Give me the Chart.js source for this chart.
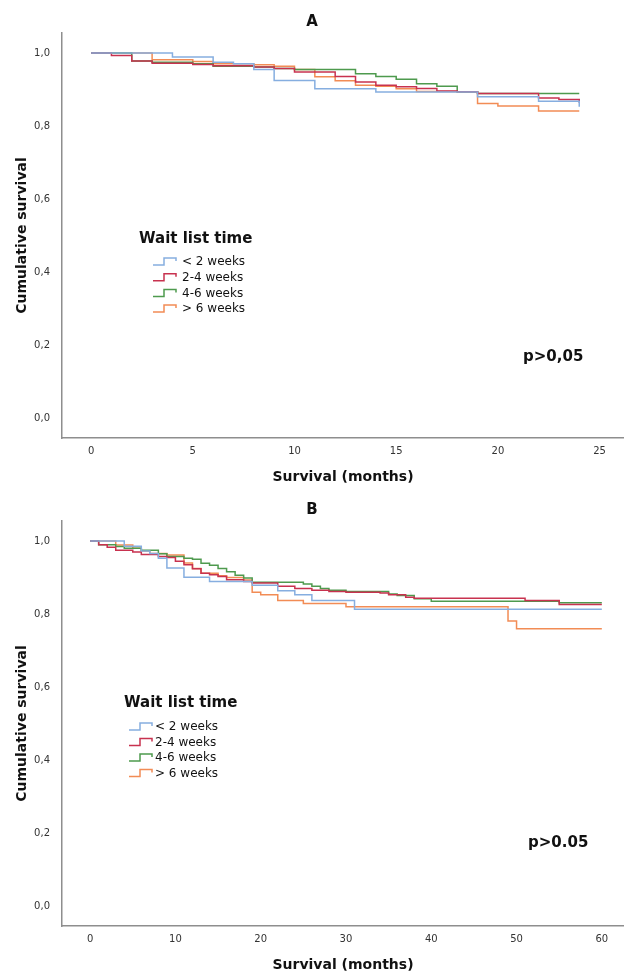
<!DOCTYPE html>
<html>
<head>
<meta charset="utf-8">
<script src="https://cdn.jsdelivr.net/npm/chart.js@4.4.1/dist/chart.umd.min.js"></script>
<style>
  html, body { margin: 0; padding: 0; background: #fff; }
  body { width: 624px; height: 976px; position: relative; overflow: hidden; }
  canvas { position: absolute; left: 0; }
  #chartA { top: 0; }
  #chartB { top: 488px; }
</style>
</head>
<body>
<canvas id="chartA" width="624" height="488"></canvas>
<canvas id="chartB" width="624" height="488"></canvas>
<script>
const groupLabels = ['< 2 weeks', '2-4 weeks', '4-6 weeks', '> 6 weeks'];
const groupColors = ['#86aee0', '#c8324f', '#4e9a4e', '#f28c55'];
const yTicks = [0, 0.2, 0.4, 0.6, 0.8, 1.0];
const xTicksA = [0, 5, 10, 15, 20, 25];
const xTicksB = [0, 10, 20, 30, 40, 50, 60];

// panel A (24 months)
const monthsA_lt2 = [0, 4, 6, 7, 8, 9, 11, 14, 19, 22, 24];
const survA_lt2   = [1, .989, .975, .971, .955, .925, .902, .893, .88, .868, .853];
const monthsA_2to4 = [0, 1, 2, 3, 5, 6, 8, 9, 10, 12, 13, 14, 15, 16, 17, 18, 19, 22, 23, 24];
const survA_2to4   = [1, .993, .978, .972, .969, .965, .962, .958, .948, .936, .921, .912, .908, .903, .896, .894, .889, .877, .873, .864];
const monthsA_4to6 = [0, 2, 3, 5, 6, 8, 9, 10, 13, 14, 15, 16, 17, 18, 19, 24];
const survA_4to6   = [1, .978, .975, .971, .964, .962, .958, .955, .943, .936, .928, .916, .909, .894, .889, .889];
const monthsA_gt6 = [0, 3, 5, 6, 8, 9, 10, 11, 12, 13, 14, 15, 16, 18, 19, 20, 22, 24];
const survA_gt6   = [1, .982, .977, .971, .968, .964, .955, .935, .924, .912, .909, .902, .895, .893, .862, .855, .841, .841];

// panel B (60 months)
const monthsB_lt2 = [0, 4, 6, 7, 8, 9, 11, 14, 19, 22, 24, 26, 31, 60];
const survB_lt2   = [1, .986, .973, .966, .953, .926, .901, .889, .879, .864, .853, .837, .813, .813];
const monthsB_2to4 = [0, 1, 2, 3, 5, 6, 8, 9, 10, 11, 12, 13, 14, 15, 16, 18, 19, 22, 24, 26, 28, 30, 34, 35, 37, 38, 51, 55, 60];
const survB_2to4   = [1, .99, .983, .975, .97, .963, .958, .955, .945, .935, .924, .912, .908, .903, .894, .889, .885, .876, .87, .865, .862, .86, .858, .853, .846, .843, .837, .826, .826];
const monthsB_4to6 = [0, 1, 3, 4, 6, 8, 9, 11, 12, 13, 14, 15, 16, 17, 18, 19, 25, 26, 27, 28, 30, 35, 36, 38, 40, 55, 60];
const survB_4to6   = [1, .99, .985, .98, .975, .965, .958, .953, .95, .939, .934, .925, .916, .906, .899, .887, .882, .876, .87, .865, .862, .855, .851, .842, .835, .831, .831];
const monthsB_gt6 = [0, 3, 5, 6, 7, 9, 11, 12, 13, 15, 16, 18, 19, 20, 22, 25, 30, 49, 50, 60];
const survB_gt6   = [1, .989, .98, .973, .966, .962, .94, .925, .912, .905, .9, .893, .86, .853, .837, .829, .82, .781, .76, .76];

const seriesA = [[monthsA_lt2, survA_lt2], [monthsA_2to4, survA_2to4], [monthsA_4to6, survA_4to6], [monthsA_gt6, survA_gt6]];
const seriesB = [[monthsB_lt2, survB_lt2], [monthsB_2to4, survB_2to4], [monthsB_4to6, survB_4to6], [monthsB_gt6, survB_gt6]];

const FONT = '"DejaVu Sans", Verdana, sans-serif';

// legend box and p value drawn inside the plot area
const kmExtras = {
  id: 'kmExtras',
  afterDraw(chart, args, opts) {
    const { ctx, chartArea: { left, top } } = chart;
    ctx.save();
    ctx.fillStyle = '#111';
    ctx.textBaseline = 'middle';
    ctx.font = 'bold 15px ' + FONT;
    ctx.fillText(opts.title, left + opts.titleX, top + opts.titleY);
    ctx.font = '12px ' + FONT;
    chart.data.datasets.forEach((ds, i) => {
      const sx = left + opts.itemX;
      const cy = top + opts.itemY + i * opts.itemGap;
      ctx.strokeStyle = ds.borderColor;
      ctx.lineWidth = 1.5;
      ctx.beginPath();
      ctx.moveTo(sx, cy + 3);
      ctx.lineTo(sx + 11, cy + 3);
      ctx.lineTo(sx + 11, cy - 4);
      ctx.lineTo(sx + 23, cy - 4);
      ctx.lineTo(sx + 23, cy - 1);
      ctx.stroke();
      ctx.fillText(ds.label, sx + opts.textGap, cy);
    });
    ctx.font = 'bold 15px ' + FONT;
    ctx.fillText(opts.pText, left + opts.pX, top + opts.pY);
    ctx.restore();
  }
};

function makeChart(id, letter, series, xTicks, xMin, xMax, extras) {
  const datasets = series.map((s, i) => ({
    label: groupLabels[i],
    data: s[0].map((m, j) => ({ x: m, y: s[1][j] })),
    borderColor: groupColors[i],
    borderWidth: 1.5,
    pointRadius: 0,
    stepped: true,
    fill: false
  }));

  return new Chart(document.getElementById(id), {
    type: 'line',
    data: { datasets },
    plugins: [kmExtras],
    options: {
      responsive: false,
      animation: false,
      devicePixelRatio: 1,
      layout: { padding: 0 },
      plugins: {
        legend: { display: false },
        tooltip: { enabled: false },
        title: {
          display: true,
          text: letter,
          color: '#111',
          font: { family: FONT, size: 15, weight: 'bold' },
          padding: { top: 13, bottom: 2 }
        },
        kmExtras: extras
      },
      scales: {
        x: {
          type: 'linear',
          min: xMin,
          max: xMax,
          grid: { display: false, drawTicks: false },
          border: { display: true, color: '#8e8e8e', width: 1.5 },
          afterBuildTicks: s => { s.ticks = xTicks.map(v => ({ value: v })); },
          afterFit: s => { s.height = 50; },
          ticks: { color: '#333', padding: 7, font: { family: FONT, size: 10 } },
          title: {
            display: true,
            text: 'Survival (months)',
            color: '#111',
            font: { family: FONT, size: 14, weight: 'bold' },
            padding: { top: 0, bottom: 2 }
          }
        },
        y: {
          min: -0.055,
          max: 1.055,
          grid: { display: false, drawTicks: false },
          border: { display: true, color: '#8e8e8e', width: 1.5 },
          afterBuildTicks: s => { s.ticks = yTicks.map(v => ({ value: v })); },
          afterFit: s => { s.width = 62; },
          ticks: {
            color: '#333',
            padding: 12,
            font: { family: FONT, size: 10 },
            callback: v => v.toFixed(1).replace('.', ',')
          },
          title: {
            display: true,
            text: 'Cumulative survival',
            color: '#111',
            font: { family: FONT, size: 14, weight: 'bold' },
            padding: { top: 14, bottom: 0 }
          }
        }
      }
    }
  });
}

makeChart('chartA', 'A', seriesA, xTicksA, -1.43, 26.2, {
  title: 'Wait list time', titleX: 77, titleY: 206,
  itemX: 91, itemY: 229, itemGap: 15.7, textGap: 29,
  pText: 'p>0,05', pX: 461, pY: 324
});

makeChart('chartB', 'B', seriesB, xTicksB, -3.3, 62.6, {
  title: 'Wait list time', titleX: 62, titleY: 182,
  itemX: 67, itemY: 206, itemGap: 15.5, textGap: 26,
  pText: 'p>0.05', pX: 466, pY: 322
});
</script>
</body>
</html>
